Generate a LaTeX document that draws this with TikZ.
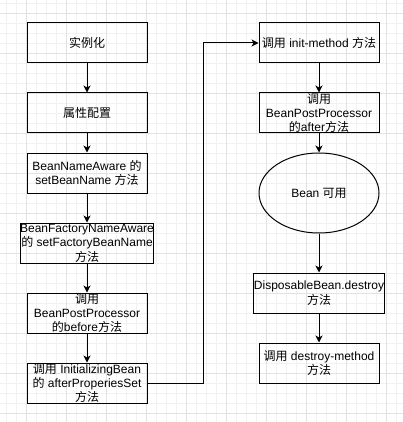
\documentclass[tikz,border=0pt]{standalone}
\usepackage{fontspec}
\setmainfont{Liberation Sans}
\newfontfamily\cjk{Noto Sans CJK SC}
\newcommand{\zh}[1]{{\cjk #1}}
\usetikzlibrary{arrows.meta,shapes.geometric}
\definecolor{gridminor}{HTML}{F1F1F1}
\definecolor{gridmajor}{HTML}{E2E2E2}
\begin{document}
\begin{tikzpicture}[x=1pt,y=-1pt,
  box/.style={draw=black,line width=1pt,minimum width=120pt,minimum height=40pt,inner sep=0pt,align=center,font=\fontsize{12pt}{14.4pt}\selectfont},
  oval/.style={ellipse,draw=black,line width=1pt,minimum width=120pt,minimum height=80pt,inner sep=0pt,align=center,font=\fontsize{12pt}{14.4pt}\selectfont},
  conn/.style={draw=black,line width=1pt,-{Stealth[length=7pt,width=7pt,inset=2pt]}}]
\useasboundingbox (0,0) rectangle (403,422);
\fill[white] (0,0) rectangle (403,422);
\foreach \i in {6,16,...,396} \draw[gridminor,line width=0.6pt] (\i,0) -- (\i,422);
\foreach \j in {3,13,...,413} \draw[gridminor,line width=0.6pt] (0,\j) -- (403,\j);
\foreach \i in {26,66,...,386} \draw[gridmajor,line width=0.6pt] (\i,0) -- (\i,422);
\foreach \j in {13,53,...,413} \draw[gridmajor,line width=0.6pt] (0,\j) -- (403,\j);

\node[box] (a) at (87,43) {\zh{实例化}};
\node[box] (b) at (87,113) {\zh{属性配置}};
\node[box] (c) at (87,173) {BeanNameAware \zh{的}\\setBeanName \zh{方法}};
\node[box] (d) at (87,243) {BeanFactoryNameAware\\\zh{的} setFactoryBeanName\\\zh{方法}};
\node[box] (e) at (87,313) {\zh{调用}\\BeanPostProcessor\\\zh{的}before\zh{方法}};
\node[box] (f) at (87,383) {\zh{调用} InitializingBean\\\zh{的} afterProperiesSet\\\zh{方法}};

\node[box] (g) at (319,43) {\zh{调用} init-method \zh{方法}};
\node[box] (h) at (319,113) {\zh{调用}\\BeanPostProcessor\\\zh{的}after\zh{方法}};
\node[oval] (i) at (319,193) {Bean \zh{可用}};
\node[box] (j) at (319,293) {DisposableBean.destroy\\\zh{方法}};
\node[box] (k) at (319,363) {\zh{调用} destroy-method\\\zh{方法}};

\coordinate (t1) at (203,383);
\coordinate (t2) at (203,43);

\draw[conn] (a) -- (b);
\draw[conn] (b) -- (c);
\draw[conn] (c) -- (d);
\draw[conn] (d) -- (e);
\draw[conn] (e) -- (f);
\draw[conn] (f.east) -- (t1) -- (t2) -- (g.west);
\draw[conn] (g) -- (h);
\draw[conn] (h) -- (i);
\draw[conn] (i) -- (j);
\draw[conn] (j) -- (k);
\end{tikzpicture}
\end{document}
